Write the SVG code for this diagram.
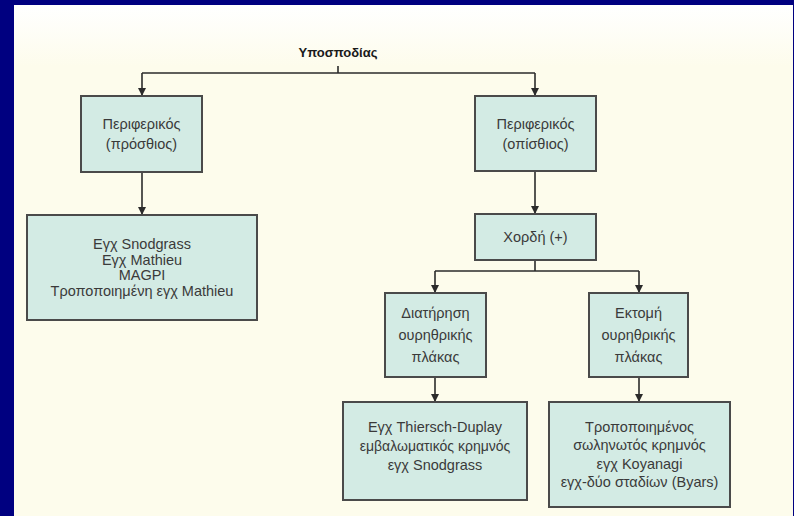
<svg xmlns="http://www.w3.org/2000/svg" width="794" height="516" viewBox="0 0 794 516">
<defs>
<linearGradient id="bg" x1="0" y1="0" x2="0" y2="1">
<stop offset="0" stop-color="#ffffff"/>
<stop offset="0.12" stop-color="#fdfcec"/>
<stop offset="1" stop-color="#fdfcec"/>
</linearGradient>
<marker id="arr" viewBox="0 0 8 10" refX="8" refY="5" markerWidth="8" markerHeight="10" markerUnits="userSpaceOnUse" orient="auto">
<path d="M0,1 L8,5 L0,9 Z" fill="#2b2b2b"/>
</marker>
<style>
.box{fill:#d3ebe4;stroke:#4a4a4a;stroke-width:2}
.t{font-family:"Liberation Sans",Arial,sans-serif;font-size:14.5px;fill:#3a3a3a;text-anchor:middle}
.s{font-size:14px}
.title{font-family:"Liberation Sans",Arial,sans-serif;font-size:13px;font-weight:bold;fill:#1a1a1a;text-anchor:middle}
.ln{fill:none;stroke:#2b2b2b;stroke-width:1.6}
</style>
</defs>
<rect x="0" y="0" width="794" height="516" fill="#000080"/>
<rect x="14" y="5" width="779" height="511" fill="url(#bg)"/>

<g id="title"><text class="title" x="338" y="57">Υποσποδίας</text></g>

<g id="connectors">
<path class="ln" d="M338,66 V73 M142,73 H535"/>
<path class="ln" d="M142,73 V96" marker-end="url(#arr)"/>
<path class="ln" d="M535,73 V96" marker-end="url(#arr)"/>
<path class="ln" d="M142,172 V215" marker-end="url(#arr)"/>
<path class="ln" d="M535,171 V214" marker-end="url(#arr)"/>
<path class="ln" d="M535,260 V271 M435,271 H639"/>
<path class="ln" d="M435,271 V293" marker-end="url(#arr)"/>
<path class="ln" d="M639,271 V293" marker-end="url(#arr)"/>
<path class="ln" d="M435,377 V402" marker-end="url(#arr)"/>
<path class="ln" d="M639,377 V402" marker-end="url(#arr)"/>
</g>

<g id="ant">
<rect class="box" x="81" y="96" width="121" height="76"/>
<text class="t" x="141.5" y="129">Περιφερικός</text>
<text class="t" x="141.5" y="149">(πρόσθιος)</text>
</g>

<g id="ant-tech">
<rect class="box" x="27" y="215" width="230" height="105"/>
<text class="t" x="142" y="249">Εγχ Snodgrass</text>
<text class="t" x="142" y="264.5">Εγχ Mathieu</text>
<text class="t" x="142" y="280">MAGPI</text>
<text class="t" x="142" y="295.5">Τροποποιημένη εγχ Mathieu</text>
</g>

<g id="post">
<rect class="box" x="475" y="96" width="121" height="75"/>
<text class="t" x="535.5" y="129">Περιφερικός</text>
<text class="t" x="535.5" y="149">(οπίσθιος)</text>
</g>

<g id="chordee">
<rect class="box" x="475" y="214" width="121" height="46"/>
<text class="t" x="535.5" y="242">Χορδή (+)</text>
</g>

<g id="preserve">
<rect class="box" x="385" y="293" width="101" height="84"/>
<text class="t" x="435.5" y="318">Διατήρηση</text>
<text class="t" x="435.5" y="340">ουρηθρικής</text>
<text class="t" x="435.5" y="362">πλάκας</text>
</g>

<g id="excise">
<rect class="box" x="589" y="293" width="99" height="84"/>
<text class="t" x="638.5" y="318">Εκτομή</text>
<text class="t" x="638.5" y="340">ουρηθρικής</text>
<text class="t" x="638.5" y="362">πλάκας</text>
</g>

<g id="preserve-tech">
<rect class="box" x="343" y="402" width="184" height="98"/>
<text class="t" x="435" y="432">Εγχ Thiersch-Duplay</text>
<text class="t s" x="435" y="451">εμβαλωματικός κρημνός</text>
<text class="t" x="435" y="470">εγχ Snodgrass</text>
</g>

<g id="excise-tech">
<rect class="box" x="549" y="402" width="181" height="105"/>
<text class="t" x="639.5" y="432">Τροποποιημένος</text>
<text class="t" x="639.5" y="450">σωληνωτός κρημνός</text>
<text class="t" x="639.5" y="469">εγχ Koyanagi</text>
<text class="t" x="639.5" y="487">εγχ-δύο σταδίων (Byars)</text>
</g>
</svg>
